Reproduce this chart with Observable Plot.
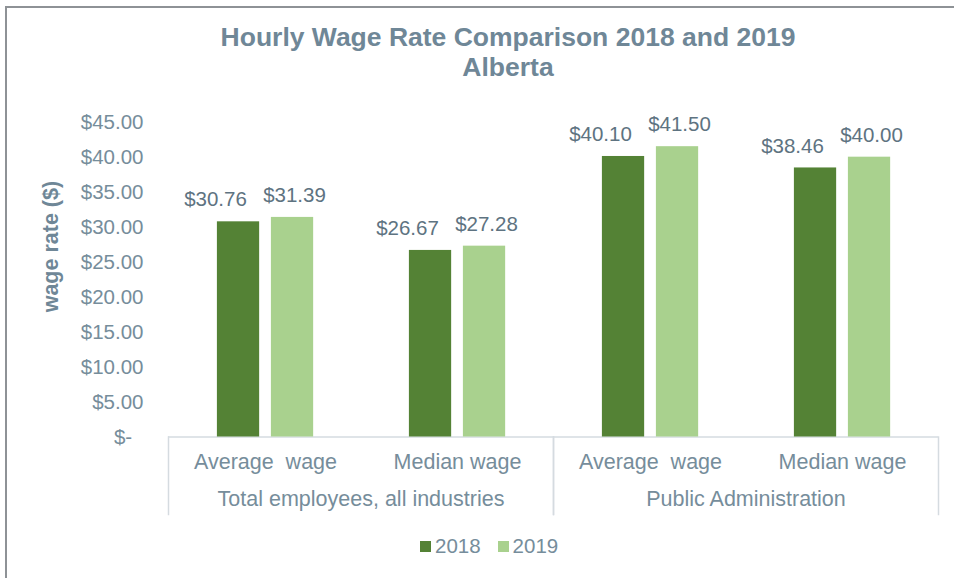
<!DOCTYPE html>
<html>
<head>
<meta charset="utf-8">
<script src="https://cdn.jsdelivr.net/npm/d3@7"></script>
<script src="https://cdn.jsdelivr.net/npm/@observablehq/plot@0.6"></script>
<style>
  body { margin: 0; background: #fff; font-family: "Liberation Sans", Arial, sans-serif; }
  #wrap { position: relative; width: 954px; height: 578px; overflow: hidden; background: #fff; }
  #border { position: absolute; left: 5px; top: 6px; width: 1000px; height: 1000px;
            border-left: 2px solid #8e9296; border-top: 2px solid #8e9296; box-sizing: border-box; }
  #chart { position: absolute; left: 0; top: 0; }
  #title { position: absolute; left: 8px; width: 1000px; top: 22px; text-align: center;
           font-weight: bold; font-size: 26.5px; line-height: 30px; color: #6f8797; }
  #legend { position: absolute; left: 420px; top: 534px; display: flex; align-items: center;
            font-size: 20.5px; line-height: 24px; color: #768d9b; }
  #legend .sw { width: 11px; height: 11px; margin-right: 4px; }
  #legend .item { display: flex; align-items: center; margin-right: 17px; }
</style>
</head>
<body>
<div id="wrap">
  <div id="border"></div>
  <div id="chart"></div>
  <div id="title"></div>
  <div id="legend"></div>
</div>
<script>
// ---- data ----
const titleLines = ["Hourly Wage Rate Comparison 2018 and 2019", "Alberta"];
const groups = ["Total employees, all industries", "Public Administration"];
const categories = ["Average  wage", "Median wage"];
const years = ["2018", "2019"];
const wages2018 = [30.76, 26.67, 40.10, 38.46];
const wages2019 = [31.39, 27.28, 41.50, 40.00];
const yTicks = [0, 5, 10, 15, 20, 25, 30, 35, 40, 45];
const yLabel = "wage rate ($)";
const colors = ["#548235", "#a9d18e"];

// ---- build rows ----
function rowsFor(values, year) {
  return values.map((v, i) => ({
    group: groups[Math.floor(i / categories.length)],
    category: categories[i % categories.length],
    year,
    value: v
  }));
}
const rows2018 = rowsFor(wages2018, years[0]);
const rows2019 = rowsFor(wages2019, years[1]);

const money = v => "$" + v.toFixed(2);
const lineColor = "#d5dbe0";
const labelColor = "#5e7381";
const fontSize = 20.5;
const catFontSize = 21.5;

const plot = Plot.plot({
  width: 954,
  height: 578,
  marginLeft: 167,
  marginRight: 16,
  marginTop: 121.7,
  marginBottom: 141.5,
  style: { background: "transparent", fontFamily: '"Liberation Sans", Arial, sans-serif', color: "#768d9b", overflow: "visible" },
  fx: { domain: groups, padding: 0 },
  x: { domain: categories, padding: 0 },
  y: { domain: [0, 45] },
  marks: [
    Plot.frame({ anchor: "left", stroke: lineColor, strokeWidth: 1.5, insetTop: 314.8, insetBottom: -77.5 }),
    Plot.frame({ anchor: "right", stroke: lineColor, strokeWidth: 1.5, insetTop: 314.8, insetBottom: -77.5 }),
    Plot.ruleY([0], { stroke: lineColor, strokeWidth: 1.5 }),
    Plot.barY(rows2018, { fx: "group", x: "category", y: "value", fill: colors[0], insetLeft: 47.9, insetRight: 101.85 }),
    Plot.barY(rows2019, { fx: "group", x: "category", y: "value", fill: colors[1], insetLeft: 101.9, insetRight: 47.85 }),
    Plot.text(rows2018, { fx: "group", x: "category", y: "value", text: d => money(d.value), dx: -50, dy: -22, fontSize, fill: labelColor }),
    Plot.text(rows2019, { fx: "group", x: "category", y: "value", text: d => money(d.value), dx: 29, dy: -22, fontSize, fill: labelColor }),
    Plot.axisY({
      ticks: yTicks,
      tickFormat: d => d === 0 ? "$-\u00a0\u00a0" : money(d),
      tickSize: 0, tickPadding: 25, fontSize,
      label: null
    }),
    Plot.text([yLabel], {
      frameAnchor: "left", textAnchor: "middle", rotate: -90, dx: -117.5, dy: -33,
      fontSize: 21.5, fontWeight: "bold", fill: "#6f8797",
      facetAnchor: "left", facet: "exclude"
    }),
    Plot.axisX({ tickSize: 0, tickPadding: 17, fontSize: catFontSize, label: null, tickFormat: d => d.replace("  ", "\u00a0 ") }),
    Plot.axisFx({ anchor: "bottom", tickSize: 0, tickPadding: 54, fontSize: catFontSize, label: null })
  ]
});
document.getElementById("chart").appendChild(plot);

// title
const t = document.getElementById("title");
titleLines.forEach(s => { const d = document.createElement("div"); d.textContent = s; t.appendChild(d); });

// legend
const lg = document.getElementById("legend");
years.forEach((y, i) => {
  const it = document.createElement("div"); it.className = "item";
  const sw = document.createElement("div"); sw.className = "sw"; sw.style.background = colors[i];
  const tx = document.createElement("span"); tx.textContent = y;
  it.appendChild(sw); it.appendChild(tx); lg.appendChild(it);
});
</script>
</body>
</html>
